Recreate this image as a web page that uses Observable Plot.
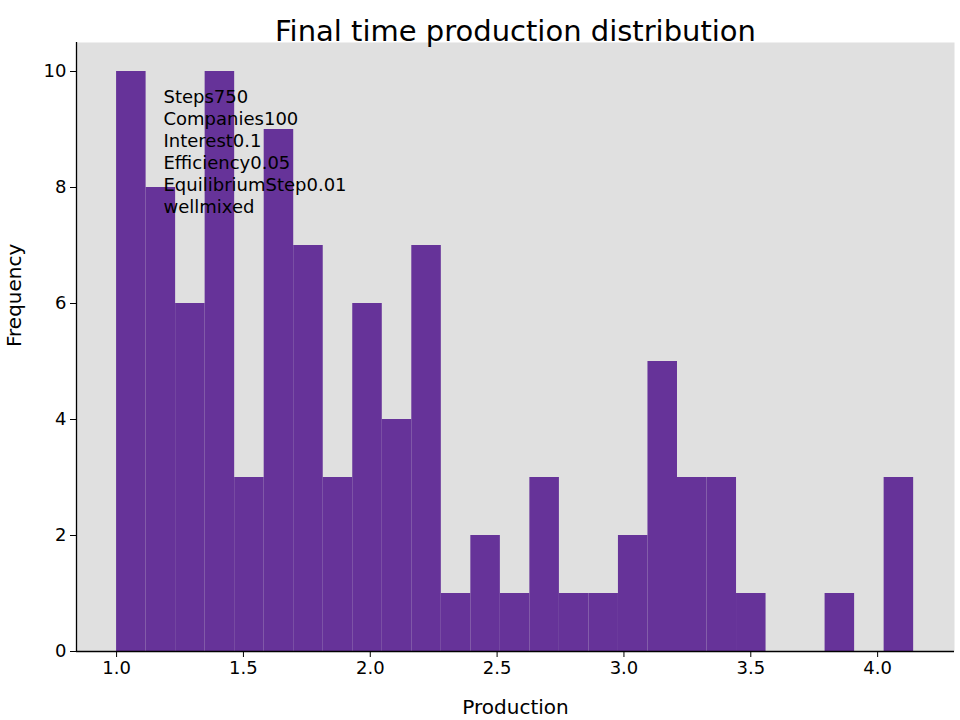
<!DOCTYPE html>
<html>
<head>
<meta charset="utf-8">
<script src="https://cdn.jsdelivr.net/npm/d3@7"></script>
<script src="https://cdn.jsdelivr.net/npm/@observablehq/plot@0.6"></script>
<style>
  body { margin: 0; background: #fff; }
</style>
</head>
<body>
<div id="chart"></div>
<script>
// histogram of final production, 27 equal bins
const binStart = 1.0;
const binEnd = 4.142;
const counts = [10, 8, 6, 10, 3, 9, 7, 3, 6, 4, 7, 1, 2, 1, 3, 1, 1, 2, 5, 3, 3, 1, 0, 0, 1, 0, 3];
const xTicks = [1.0, 1.5, 2.0, 2.5, 3.0, 3.5, 4.0];
const yTicks = [0, 2, 4, 6, 8, 10];
const params = ["Steps750", "Companies100", "Interest0.1", "Efficiency0.05", "EquilibriumStep0.01", "wellmixed"];

const w = (binEnd - binStart) / counts.length;
const bins = counts.map((c, i) => ({x1: binStart + i * w, x2: binStart + (i + 1) * w, y: c}));

const xDomain = [0.842, 4.303];

let chart = Plot.plot({
  width: 960,
  height: 720,
  marginTop: 42,
  marginLeft: 76,
  marginRight: 6,
  marginBottom: 69,
  style: {fontFamily: "DejaVu Sans", fontSize: "18px", color: "#000", background: "#fff"},
  x: {domain: xDomain, ticks: xTicks, tickFormat: d3.format(".1f"), label: null},
  y: {domain: [0, 10.5], ticks: yTicks, label: null},
  marks: [
    Plot.frame({fill: "#e0e0e0", stroke: null}),
    Plot.rectY(bins, {x1: "x1", x2: "x2", y: "y", fill: "#663399", insetLeft: 0, insetRight: 0}),
    Plot.ruleY([0], {stroke: "#000", strokeWidth: 1.3}),
    Plot.ruleX([xDomain[0]], {stroke: "#000", strokeWidth: 1.3}),
    Plot.axisX({ticks: xTicks, tickFormat: d3.format(".1f"), tickSize: 6, tickPadding: 4, fontSize: 18, label: null}),
    Plot.axisY({ticks: yTicks, tickSize: 6, tickPadding: 4, fontSize: 18, label: null}),
    Plot.text(["Production"], {frameAnchor: "bottom", dy: 62, fontSize: 20}),
    Plot.text(["Frequency"], {frameAnchor: "left", dx: -62, rotate: -90, fontSize: 20}),
    Plot.text(["Final time production distribution"], {frameAnchor: "top", dy: -22, fontSize: 29}),
    Plot.text([params.join("\n")], {frameAnchor: "top-left", dx: 87, dy: 45, lineAnchor: "top", textAnchor: "start", fontSize: 18, lineHeight: 1.22})
  ]
});
d3.select("#chart").append(() => chart);
</script>
</body>
</html>
